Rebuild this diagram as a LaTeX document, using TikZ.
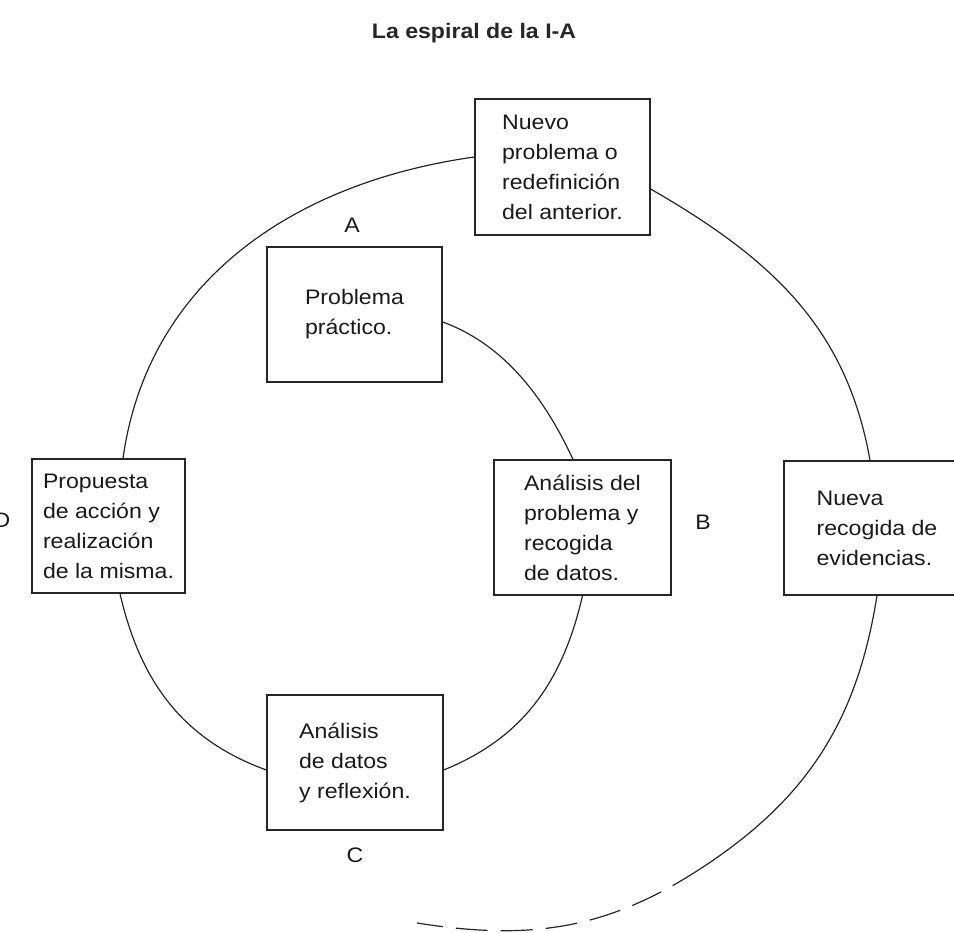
\documentclass[tikz,border=0pt]{standalone}
\usepackage{fontspec}
\setmainfont{Liberation Sans}[FakeStretch=1.1]
\tikzset{
  caja/.style={draw=black!85, line width=1.3pt, align=left, text=black!90,
    font=\fontsize{21}{30}\selectfont, inner sep=0pt},
  etiqueta/.style={text=black!90, font=\fontsize{21}{30}\selectfont},
  espiral/.style={draw=black!85, line width=1.2pt},
}

\begin{document}
\begin{tikzpicture}[x=1pt,y=1pt]
  %%%%% START %%%%%
  \useasboundingbox (0,0) rectangle (954,-933);

  \node[text=black!85, font=\bfseries\fontsize{21}{25}\selectfont] (titulo) at (474,-33) {La espiral de la I-A};

  % cajas
  \node[caja, minimum width=175pt, minimum height=136pt] (nuevo) at (562.5,-167) {Nuevo\\problema o\\redefinición\\del anterior.};
  \node[caja, minimum width=175pt, minimum height=135pt] (pp) at (354.5,-314.5) {Problema\\práctico.};
  \node[caja, minimum width=177pt, minimum height=135pt] (anaB) at (582.5,-527.5) {Análisis del\\problema y\\recogida\\de datos.};
  \node[caja, minimum width=186pt, minimum height=134pt] (nueva) at (877,-528) {Nueva\\recogida de\\evidencias.};
  \node[caja, minimum width=153pt, minimum height=134pt] (prop) at (108.5,-526) {Propuesta\\de acción y\\realización\\de la misma.};
  \node[caja, minimum width=176pt, minimum height=135pt] (anaC) at (355,-762.5) {Análisis\\de datos\\y reflexión.};

  % letras
  \node[etiqueta] (labA) at (352,-225) {A};
  \node[etiqueta] (labB) at (703,-522) {B};
  \node[etiqueta] (labC) at (355,-855) {C};
  \node[etiqueta] (labD) at (2,-520) {D};

  % espiral
  \coordinate (giro) at (700,-869);
  \coordinate (fin) at (417,-923);
  \draw[espiral] ([yshift=-7.5pt]pp.east) to[out=-20,in=115,looseness=0.9] ([xshift=-9.5pt]anaB.north);
  \draw[espiral] (anaB.south) to[out=-103,in=22] ([yshift=-7.5pt]anaC.east);
  \draw[espiral] ([yshift=-7.5pt]anaC.west) to[out=160,in=-77] ([xshift=11.5pt]prop.south);
  \draw[espiral] ([xshift=14.5pt]prop.north) to[out=82,in=188] ([yshift=10pt]nuevo.west);
  \draw[espiral] ([yshift=-22pt]nuevo.east) to[out=-30,in=100] ([xshift=-7pt]nueva.north);
  \draw[espiral] (nueva.south) to[out=-99,in=33] (giro);
  \draw[espiral, dash pattern=on 32pt off 13pt] (giro) to[out=-147,in=-9] (fin);

  %%%%% END %%%%%
\end{tikzpicture}
\end{document}
